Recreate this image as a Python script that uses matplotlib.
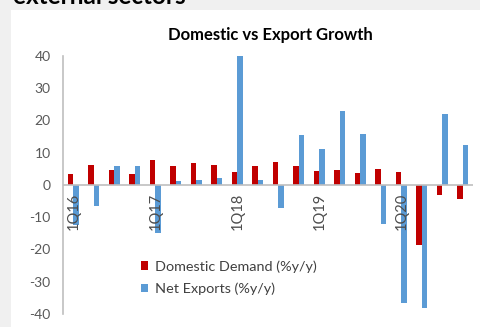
import matplotlib
matplotlib.use("Agg")
import matplotlib.pyplot as plt
from matplotlib.patches import Rectangle
import numpy as np

plt.rcParams["font.family"] = ["Lato", "DejaVu Sans"]
plt.rcParams["axes.unicode_minus"] = False

quarters = ["1Q16", "2Q16", "3Q16", "4Q16", "1Q17", "2Q17", "3Q17", "4Q17",
            "1Q18", "2Q18", "3Q18", "4Q18", "1Q19", "2Q19", "3Q19", "4Q19",
            "1Q20", "2Q20", "3Q20", "4Q20"]
domestic = [3.5, 6.2, 4.6, 3.3, 7.7, 5.7, 6.7, 6.2, 4.0, 5.7,
            7.0, 5.7, 4.3, 4.5, 3.6, 5.0, 3.9, -18.6, -3.1, -4.4]
net_exports = [-12.4, -6.7, 5.9, 5.9, -15.0, 1.3, 1.5, 2.1, 40.0, 1.5,
               -7.2, 15.5, 11.0, 22.8, 15.8, -12.1, -36.6, -38.2, 22.0, 12.4]
yticks = [-40, -30, -20, -10, 0, 10, 20, 30, 40]

RED, BLUE = "#C00000", "#5B9BD5"
GRID = "#BFBFBF"
TXT = "#595959"
W, H = 480, 327

fig = plt.figure(figsize=(W / 100, H / 100), dpi=100, facecolor="#F0F0F0")

# white chart card on the grey page (behind the axes)
fig.patches.append(Rectangle((11 / W, 0), 1 - 11 / W, 1 - 10 / H,
                             transform=fig.transFigure, facecolor="white",
                             edgecolor="none", zorder=-5))
# page heading, mostly cut off at the top
fig.text(13 / W, 1 - 4 / H, "external sectors", fontsize=17.5, weight="bold",
         color="black", ha="left", va="baseline")

ax = fig.add_axes([63 / W, 1 - 314 / H, 410 / W, (314 - 55.7) / H])
ax.set_facecolor("none")

x = np.arange(len(quarters))
bw = 0.27
ax.bar(x - bw / 2, domestic, bw, color=RED, label="Domestic Demand (%y/y)", zorder=2)
ax.bar(x + bw / 2, net_exports, bw, color=BLUE, label="Net Exports (%y/y)", zorder=2)

ax.set_xlim(-0.5, len(quarters) - 0.5)
ax.set_ylim(-40, 40)
ax.set_yticks(yticks)
ax.set_yticklabels([str(v) for v in yticks])
ax.tick_params(axis="y", length=0, pad=9, labelsize=10, labelcolor=TXT)
ax.set_xticks([])

for s in ("top", "right", "bottom"):
    ax.spines[s].set_visible(False)
ax.spines["left"].set_color(GRID)
ax.spines["left"].set_linewidth(1.2)
ax.axhline(0, color=GRID, lw=1.2, zorder=3)

# quarter labels sit just under the zero line, one per year
for i, q in enumerate(quarters):
    if q.startswith("1Q"):
        ax.text(i, -2.4, q, rotation=90, ha="center", va="top",
                fontsize=10.5, color="#4D4D4D", zorder=4)

fig.text(270 / W, 1 - 40 / H, "Domestic vs Export Growth", ha="center",
         va="baseline", fontsize=12, weight="bold", color="black")

ax.legend(loc="upper left", bbox_to_anchor=(141 / W, 1 - 260 / H),
          bbox_transform=fig.transFigure, frameon=False, fontsize=10.4,
          handlelength=0.5, handleheight=0.5, handletextpad=0.45,
          labelspacing=0.7, borderpad=0, borderaxespad=0, labelcolor="#404040")

fig.savefig("out.png", dpi=100, facecolor=fig.get_facecolor())
